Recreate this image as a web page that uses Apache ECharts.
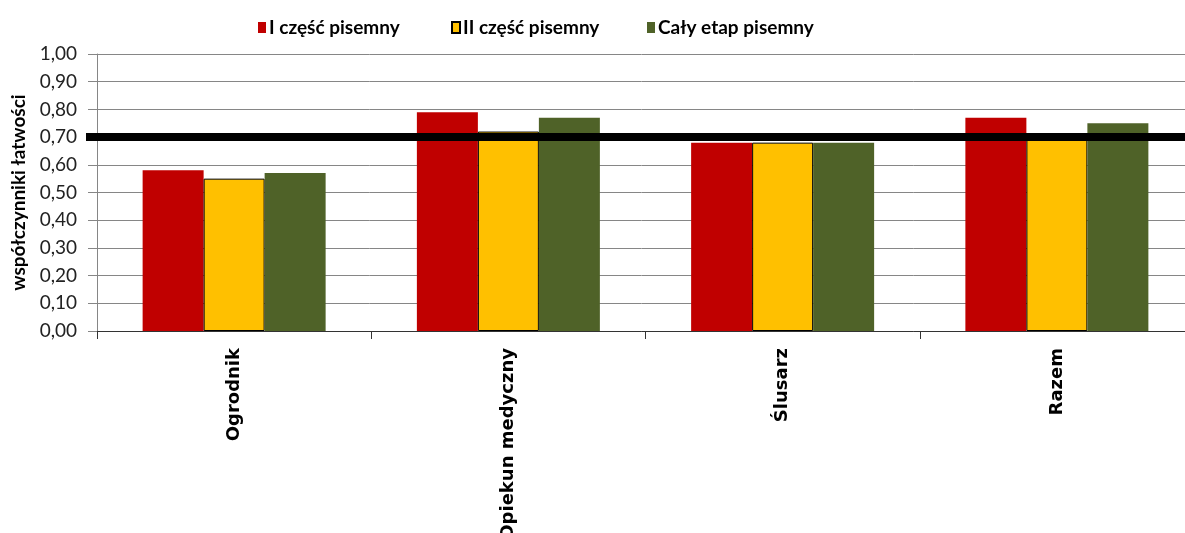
<!DOCTYPE html>
<html>
<head>
<meta charset="utf-8">
<script src="https://cdn.jsdelivr.net/npm/echarts@6/dist/echarts.min.js"></script>
<style>html,body{margin:0;padding:0;background:#fff}#c{width:1185px;height:533px}</style>
</head>
<body>
<div id="c"></div>
<script>
const categories = ["Ogrodnik", "Opiekun medyczny", "Ślusarz", "Razem"];
const seriesNames = ["I część pisemny", "II część pisemny", "Cały etap pisemny"];
const part1 = [0.58, 0.79, 0.68, 0.77];
const part2 = [0.55, 0.72, 0.68, 0.71];
const whole = [0.57, 0.77, 0.68, 0.75];
const threshold = 0.70;
const yTicks = [0, 1, 0.1]; // min, max, interval

const FONT = "Lato";
const chart = echarts.init(document.getElementById('c'));
const legendBase = {
  top: 13, itemWidth: 8, itemHeight: 11, icon: 'rect', itemGap: 4,
  textStyle: {fontFamily: FONT, fontWeight: 'bold', fontSize: 19, color: '#000', padding: [0, 0, 0, -2]}
};
chart.setOption({
  animation: false,
  textStyle: {fontFamily: FONT},
  legend: [
    Object.assign({}, legendBase, {left: 253, data: [seriesNames[0]]}),
    Object.assign({}, legendBase, {left: 446, data: [seriesNames[1]]}),
    Object.assign({}, legendBase, {left: 642, data: [seriesNames[2]]})
  ],
  grid: [
    {left: 97, width: 1097, top: 54, bottom: 202, outerBoundsMode: 'none', containLabel: false},
    {left: 86, width: 1108, top: 54, bottom: 202, outerBoundsMode: 'none', containLabel: false}
  ],
  xAxis: [
    {
      type: 'category', data: categories, gridIndex: 0,
      axisLine: {lineStyle: {color: '#333', width: 1}},
      axisTick: {show: true, length: 8, lineStyle: {color: '#333'}},
      axisLabel: {rotate: 90, margin: 17, fontFamily: 'DejaVu Sans', fontWeight: 'bold', fontSize: 18, color: '#000'}
    },
    {type: 'value', gridIndex: 1, min: 0, max: 1, show: false}
  ],
  yAxis: [
    {
      type: 'value', gridIndex: 0, min: yTicks[0], max: yTicks[1], interval: yTicks[2],
      name: 'współczynniki łatwości', nameLocation: 'middle', nameGap: 67,
      nameTextStyle: {fontFamily: FONT, fontWeight: 'bold', fontSize: 19, color: '#000'},
      axisLine: {show: true, lineStyle: {color: '#868686'}},
      axisTick: {show: true, length: 9, lineStyle: {color: '#868686'}},
      splitLine: {lineStyle: {color: '#868686', width: 1}},
      axisLabel: {fontFamily: FONT, fontSize: 19, color: '#222', margin: 20,
        formatter: v => v.toFixed(2).replace('.', ',')}
    },
    {type: 'value', gridIndex: 1, min: 0, max: 1, show: false}
  ],
  series: [
    {name: seriesNames[0], type: 'bar', data: part1, barWidth: 61, barGap: '0%',
      itemStyle: {color: '#C00000'}},
    {name: seriesNames[1], type: 'bar', data: part2, barWidth: 61, barGap: '0%',
      itemStyle: {color: '#FFC000', borderColor: '#000', borderWidth: 1}},
    {name: seriesNames[2], type: 'bar', data: whole, barWidth: 61, barGap: '0%',
      itemStyle: {color: '#4F6228'}},
    {name: 'próg', type: 'line', xAxisIndex: 1, yAxisIndex: 1, z: 10,
      data: [[0, threshold], [1, threshold]], symbol: 'none',
      lineStyle: {color: '#000', width: 8}}
  ]
});
</script>
</body>
</html>
